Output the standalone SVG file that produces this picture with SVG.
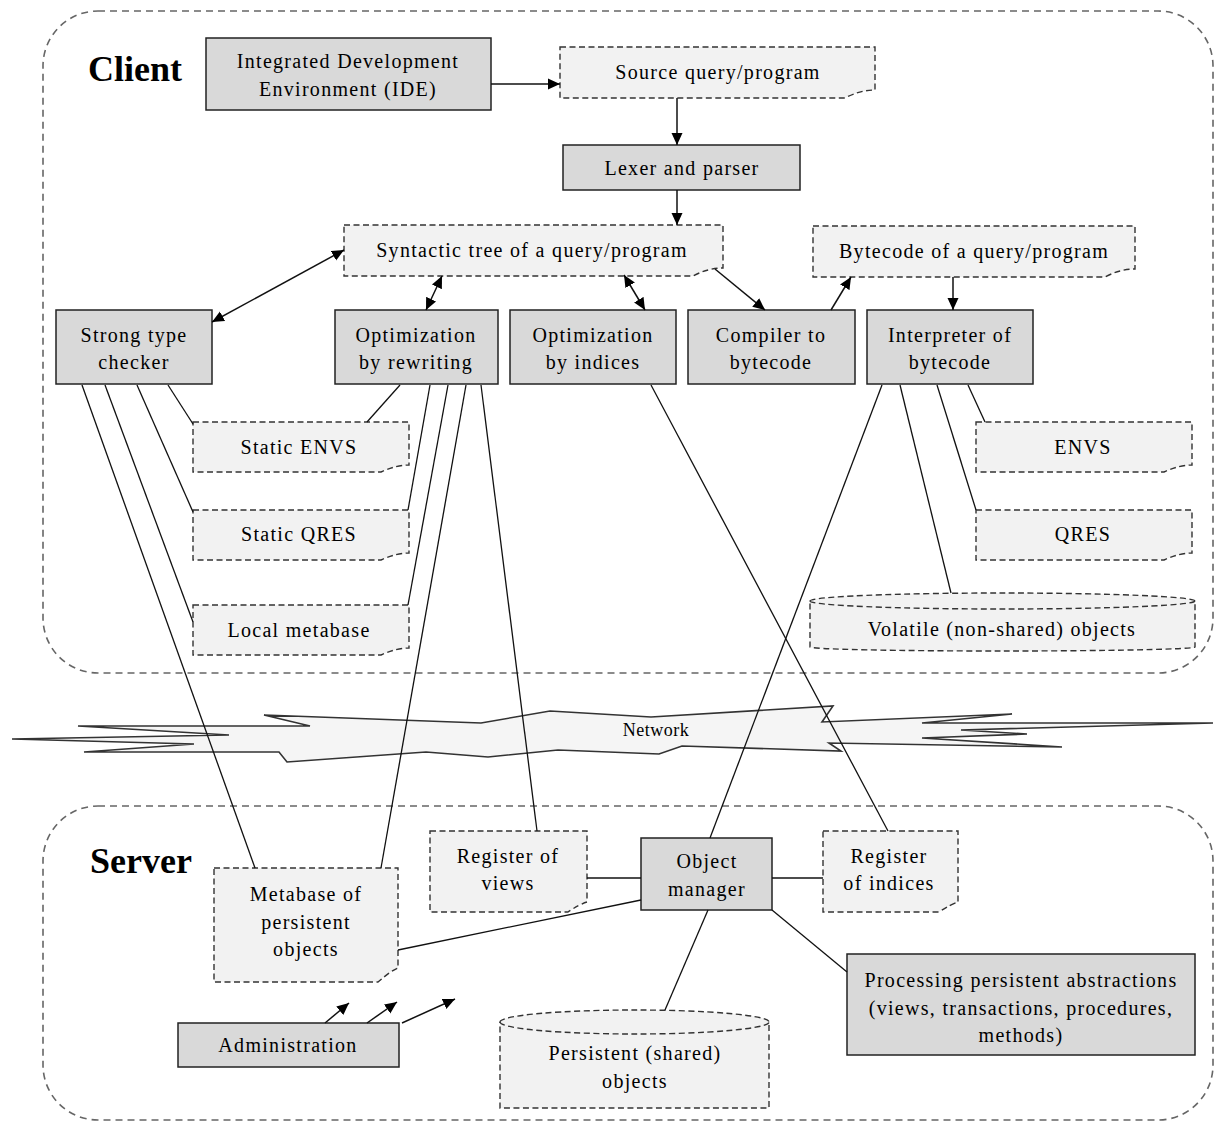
<svg xmlns="http://www.w3.org/2000/svg" width="1215" height="1126" viewBox="0 0 1215 1126">
<style>
.t{font-family:"Liberation Serif","Times New Roman",serif;font-size:20px;letter-spacing:1.3px;fill:#000;text-anchor:middle}
.h{font-family:"Liberation Serif","Times New Roman",serif;font-size:36px;font-weight:bold;fill:#000}
.box{fill:#d9d9d9;stroke:#222;stroke-width:1.5}
.doc{fill:#f2f2f2;stroke:#333;stroke-width:1.4;stroke-dasharray:6 3.5}
.cont{fill:none;stroke:#666;stroke-width:1.6;stroke-dasharray:7 5}
.ln{stroke:#111;stroke-width:1.3;fill:none}
.ar{stroke:#111;stroke-width:1.5;fill:none;marker-end:url(#ah)}
.dar{stroke:#111;stroke-width:1.5;fill:none;marker-end:url(#ah);marker-start:url(#ah)}
</style>
<defs>
<marker id="ah" viewBox="0 0 12 12" refX="12" refY="6" markerWidth="12" markerHeight="12" markerUnits="userSpaceOnUse" orient="auto-start-reverse">
<path d="M0,0.5 L12,6 L0,11.5 Z" fill="#000"/>
</marker>
</defs>
<rect width="1215" height="1126" fill="#fff"/>
<g id="client-container">
<rect class="cont" x="43" y="11" width="1170" height="662" rx="55"/>
<text class="h" x="88" y="81">Client</text>
</g>
<g id="server-container">
<rect class="cont" x="43" y="806" width="1170" height="314" rx="55"/>
<text class="h" x="90" y="873">Server</text>
</g>
<g id="network">
<path d="M12,739 L229,735 L78,726 L310,726 L264,715 L481,723 L550,711 L651,717 L833,706 L822,722 L1012,714 L922,723 L1213,723 L961,730 L1027,734 L922,738 L1062,747 L829,743 L841,751 L682,746 L659,754 L558,750 L488,757 L426,752 L287,762 L279,752 L84,752 L194,744 Z" fill="#f5f5f5" stroke="#333" stroke-width="1.6" stroke-linejoin="miter"/>
<text class="t" x="656" y="736" style="font-size:18px;letter-spacing:0.5px">Network</text>
</g>
<g id="ide">
<rect class="box" x="206" y="38" width="285" height="72"/>
<text class="t" x="348" y="68">Integrated Development</text>
<text class="t" x="348" y="96">Environment (IDE)</text>
</g>
<g id="source">
<path class="doc" d="M560,47 H875 V90 Q860,90 845,98 H560 Z"/>
<text class="t" x="718" y="79">Source query/program</text>
</g>
<g id="lexer">
<rect class="box" x="563" y="145" width="237" height="45"/>
<text class="t" x="682" y="175">Lexer and parser</text>
</g>
<g id="syntactic">
<path class="doc" d="M344,225 H723 V268 Q708,268 693,276 H344 Z"/>
<text class="t" x="532" y="257">Syntactic tree of a query/program</text>
</g>
<g id="bytecode">
<path class="doc" d="M813,226 H1135 V269 Q1120,269 1105,277 H813 Z"/>
<text class="t" x="974" y="258">Bytecode of a query/program</text>
</g>
<g id="checker">
<rect class="box" x="56" y="310" width="156" height="74"/>
<text class="t" x="134" y="342">Strong type</text>
<text class="t" x="134" y="369">checker</text>
</g>
<g id="opt-rewriting">
<rect class="box" x="335" y="310" width="163" height="74"/>
<text class="t" x="416" y="342">Optimization</text>
<text class="t" x="416" y="369">by rewriting</text>
</g>
<g id="opt-indices">
<rect class="box" x="510" y="310" width="166" height="74"/>
<text class="t" x="593" y="342">Optimization</text>
<text class="t" x="593" y="369">by indices</text>
</g>
<g id="compiler">
<rect class="box" x="688" y="310" width="167" height="74"/>
<text class="t" x="771" y="342">Compiler to</text>
<text class="t" x="771" y="369">bytecode</text>
</g>
<g id="interpreter">
<rect class="box" x="867" y="310" width="166" height="74"/>
<text class="t" x="950" y="342">Interpreter of</text>
<text class="t" x="950" y="369">bytecode</text>
</g>
<g id="static-envs">
<path class="doc" d="M193,422 H409 V465 Q396,465 381,472 H193 Z"/>
<text class="t" x="299" y="454">Static ENVS</text>
</g>
<g id="static-qres">
<path class="doc" d="M193,510 H409 V553 Q396,553 381,560 H193 Z"/>
<text class="t" x="299" y="541">Static QRES</text>
</g>
<g id="local-metabase">
<path class="doc" d="M193,605 H409 V648 Q396,648 381,655 H193 Z"/>
<text class="t" x="299" y="637">Local metabase</text>
</g>
<g id="envs">
<path class="doc" d="M976,422 H1192 V465 Q1179,465 1164,472 H976 Z"/>
<text class="t" x="1083" y="454">ENVS</text>
</g>
<g id="qres">
<path class="doc" d="M976,510 H1192 V553 Q1179,553 1164,560 H976 Z"/>
<text class="t" x="1083" y="541">QRES</text>
</g>
<g id="volatile">
<path class="doc" d="M810,601 A192.5,8 0 0 1 1195,601 V647 A192.5,4 0 0 1 810,647 Z"/>
<path class="doc" style="fill:none" d="M810,601 A192.5,8 0 0 0 1195,601"/>
<text class="t" x="1002" y="636">Volatile (non-shared) objects</text>
</g>
<g id="metabase-persistent">
<path class="doc" d="M214,868 H398 V968 Q392,970 378,982 H214 Z"/>
<text class="t" x="306" y="901">Metabase of</text>
<text class="t" x="306" y="929">persistent</text>
<text class="t" x="306" y="956">objects</text>
</g>
<g id="register-views">
<path class="doc" d="M430,831 H587 V902 Q580,904 568,912 H430 Z"/>
<text class="t" x="508" y="863">Register of</text>
<text class="t" x="508" y="890">views</text>
</g>
<g id="object-manager">
<rect class="box" x="641" y="838" width="131" height="72"/>
<text class="t" x="707" y="868">Object</text>
<text class="t" x="707" y="896">manager</text>
</g>
<g id="register-indices">
<path class="doc" d="M823,831 H958 V902 Q951,904 939,912 H823 Z"/>
<text class="t" x="889" y="863">Register</text>
<text class="t" x="889" y="890">of indices</text>
</g>
<g id="processing">
<rect class="box" x="847" y="954" width="348" height="101"/>
<text class="t" x="1021" y="987">Processing persistent abstractions</text>
<text class="t" x="1021" y="1015">(views, transactions, procedures,</text>
<text class="t" x="1021" y="1042">methods)</text>
</g>
<g id="persistent-objects">
<path class="doc" d="M500,1022 A134.5,12 0 0 1 769,1022 V1108 H500 Z"/>
<path class="doc" style="fill:none" d="M500,1022 A134.5,12 0 0 0 769,1022"/>
<text class="t" x="635" y="1060">Persistent (shared)</text>
<text class="t" x="635" y="1088">objects</text>
</g>
<g id="administration">
<rect class="box" x="178" y="1023" width="221" height="44"/>
<text class="t" x="288" y="1052">Administration</text>
</g>
<g id="connectors">
<line class="ar" x1="491" y1="84" x2="560" y2="84"/>
<line class="ar" x1="677" y1="98" x2="677" y2="145"/>
<line class="ar" x1="677" y1="190" x2="677" y2="225"/>
<line class="dar" x1="344" y1="250" x2="212" y2="322"/>
<line class="dar" x1="442" y1="276" x2="426" y2="310"/>
<line class="dar" x1="624" y1="275" x2="645" y2="310"/>
<line class="ar" x1="715" y1="269" x2="765" y2="310"/>
<line class="ar" x1="831" y1="310" x2="851" y2="277"/>
<line class="ar" x1="953" y1="277" x2="953" y2="310"/>
<line class="ln" x1="168" y1="385" x2="193" y2="424"/>
<line class="ln" x1="137" y1="385" x2="193" y2="512"/>
<line class="ln" x1="105" y1="385" x2="193" y2="622"/>
<line class="ln" x1="82" y1="385" x2="255" y2="868"/>
<line class="ln" x1="400" y1="385" x2="367" y2="422"/>
<line class="ln" x1="430" y1="385" x2="408" y2="510"/>
<line class="ln" x1="448" y1="385" x2="408" y2="605"/>
<line class="ln" x1="466" y1="385" x2="381" y2="868"/>
<line class="ln" x1="481" y1="385" x2="537" y2="831"/>
<line class="ln" x1="651" y1="385" x2="888" y2="831"/>
<line class="ln" x1="882" y1="385" x2="710" y2="838"/>
<line class="ln" x1="900" y1="385" x2="951" y2="593"/>
<line class="ln" x1="937" y1="385" x2="976" y2="510"/>
<line class="ln" x1="968" y1="385" x2="985" y2="422"/>
<line class="ln" x1="587" y1="878" x2="641" y2="878"/>
<line class="ln" x1="772" y1="878" x2="823" y2="878"/>
<line class="ln" x1="641" y1="900" x2="398" y2="950"/>
<line class="ln" x1="708" y1="910" x2="665" y2="1010"/>
<line class="ln" x1="772" y1="910" x2="847" y2="972"/>
<line class="ar" x1="325" y1="1023" x2="349" y2="1003"/>
<line class="ar" x1="367" y1="1023" x2="397" y2="1002"/>
<line class="ar" x1="402" y1="1023" x2="455" y2="999"/>
</g>
</svg>
